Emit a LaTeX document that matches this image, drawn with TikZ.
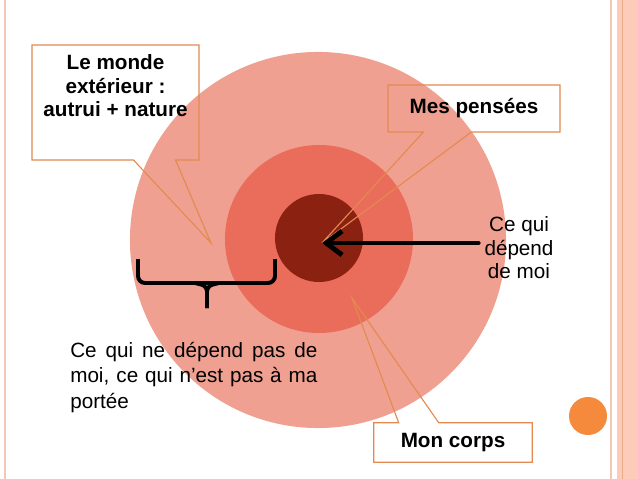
\documentclass[tikz,border=0pt]{standalone}
\usepackage{fontspec}
\setmainfont{Liberation Sans}
\usepackage{tikz}
\tikzset{>=latex}
\usetikzlibrary{calc,arrows.meta,shapes.callouts,positioning}
\definecolor{cercleext}{HTML}{F0A091}
\definecolor{cerclemil}{HTML}{EA6C5A}
\definecolor{cercleint}{HTML}{8B2211}
\definecolor{orangebulle}{HTML}{E38A50}
\definecolor{bord}{HTML}{F4C8B6}
\definecolor{bande}{HTML}{FDCBB9}
\definecolor{pastille}{HTML}{F68A3C}
\tikzset{
    disque/.style={circle, inner sep=0pt, draw=none},
    bulle/.style={rectangle callout, draw=orangebulle, line width=0.8pt, inner sep=0pt},
    gras/.style={font=\fontsize{14.7}{16.7}\selectfont\bfseries, inner sep=0pt, align=center},
    normal/.style={font=\fontsize{14.7}{16.7}\selectfont, inner sep=0pt, align=center},
}

\begin{document}
\begin{tikzpicture}[x=0.025cm, y=-0.025cm]
            \useasboundingbox (0,0) rectangle (638,479);
            \fill[white] (0,0) rectangle (638,479);
            % bords de la page
            \draw[bord, line width=1.5pt] (5,0) -- (5,479);
            \draw[bord, line width=1.5pt] (611,0) -- (611,479);
            \fill[bande] (617,0) rectangle (638,479);
            \draw[orangebulle!70, line width=0.6pt] (622,0) -- (622,479);

            % les trois cercles
            \node[disque, fill=cercleext, minimum size=9.4cm] (exterieur) at (318,240) {};
            \node[disque, fill=cerclemil, minimum size=4.7cm] (corps) at (319,239) {};
            \node[disque, fill=cercleint, minimum size=2.2cm] (pensee) at (319,238) {};
            \coordinate (centre) at (322,243);
            \coordinate (pointe monde) at (211,243);
            \coordinate (pointe corps) at (352,298);

            % accolade
            \draw[line width=2.8pt, rounded corners=5pt] (138,259) -- (138,283) -- (275,283) -- (275,259);
            \draw[line width=2.8pt, rounded corners=4pt] (195,283) -- (207,286) -- (207,308);
            \draw[line width=2.8pt, rounded corners=4pt] (219,283) -- (207,286) -- (207,308);

            % bulles
            \node[bulle, minimum width=4.175cm, minimum height=2.875cm, callout pointer width=1.05cm,
                  callout absolute pointer={(pointe monde)}] (bulle monde) at (115.5,102.5) {};
            \node[gras, anchor=north] (monde) at ($(bulle monde.north)+(0,10)$) {Le monde\\extérieur :\\autrui + nature};
            \node[bulle, gras, minimum width=4.3cm, minimum height=1.175cm, callout pointer width=1.2cm,
                  callout absolute pointer={(centre)}] (bulle pensees) at (474,108.5) {Mes pensées};
            \node[gras, minimum width=3.95cm, minimum height=0.975cm] (bulle corps) at (453,442.5) {Mon corps};
            \draw[orangebulle, line width=0.8pt] ($(bulle corps.north west)+(25,0)$) -- (pointe corps)
                  -- ($(bulle corps.north west)+(65,0)$) -- (bulle corps.north east) -- (bulle corps.south east)
                  -- (bulle corps.south west) -- (bulle corps.north west) -- cycle;

            % textes
            \node[normal] (depend) at (519,248) {Ce qui\\dépend\\de moi};
            \draw[line width=3.5pt, line cap=round, -{Straight Barb[length=4mm,width=6mm]}] ($(depend.west |- centre)+(-6,0)$) -- (centre);
            \node[normal, align=justify, text width=6.175cm, anchor=north west, font=\fontsize{14.7}{18}\selectfont]
                  (hors portee) at (70,342) {Ce qui ne dépend pas de\linebreak moi, ce qui n’est pas à ma\linebreak portée};

            \fill[pastille] (588,416) circle[radius=0.475cm];
\end{tikzpicture}
\end{document}
